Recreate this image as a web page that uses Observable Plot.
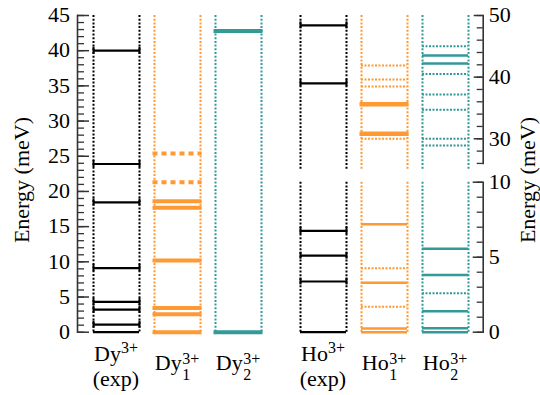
<!DOCTYPE html>
<html>
<head>
<meta charset="utf-8">
<script src="https://cdn.jsdelivr.net/npm/d3@7"></script>
<script src="https://cdn.jsdelivr.net/npm/@observablehq/plot@0.6"></script>
<style>
html, body { margin: 0; padding: 0; background: #fff; }
#chart { position: relative; width: 540px; height: 395px; overflow: hidden; background: #fff; }
#chart svg { position: absolute; left: 0; top: 0; }
</style>
</head>
<body>
<div id="chart"></div>
<script>
// ---------- data ----------
const dyColumns = ["Dy exp", "Dy 1", "Dy 2"];
const hoColumns = ["Ho exp", "Ho 1", "Ho 2"];

// Dy3+ levels (meV)
const dyExp = [0, 1.07, 3.2, 4.3, 9.1, 18.45, 23.9, 40.0];
const dy1Solid = [0, 2.55, 3.45, 10.2, 17.7, 18.6];
const dy1Dashed = [21.3, 25.4];
const dy2Solid = [0, 42.8];

// Ho3+ levels (meV)
const hoExp = [0, 3.38, 5.1, 6.75, 39.0, 48.4];
const ho1Solid = [0, 0.25, 3.3, 7.2];
const ho1SolidStrong = [30.8, 35.6];
const ho1Dashed = [1.7, 4.27, 30.0, 38.5, 39.6, 41.9];
const ho2Solid = [0, 0.27, 1.4, 3.82, 5.56, 42.2, 43.5];
const ho2Dashed = [2.6, 28.9, 30.0, 34.7, 37.2, 40.5, 45.0];

// axis ticks
const dyTickLabels = [0, 5, 10, 15, 20, 25, 30, 35, 40, 45];
const hoUpperTickLabels = [30, 40, 50];
const hoLowerTickLabels = [0, 5, 10];
const dyMinorTicks = d3.range(0, 46, 1);
const hoUpperMinorTicks = d3.range(26, 51, 2);
const hoLowerMinorTicks = d3.range(0, 11, 1);

const dyDomain = [0, 45];
const hoUpperDomain = [25, 50];
const hoLowerDomain = [0, 10];
const axisTitle = "Energy (meV)";

// ---------- styles ----------
const font = "Liberation Serif";
const axisColor = "#333";
const colColors = {exp: "#000000", "1": "#ff9933", "2": "#339999"};
const colorOf = (c) => colColors[c.split(" ")[1]];
const half = 23;
const W = 540, H = 395;

const rec = (col, arr) => arr.map((e) => ({col, e}));

function columnMarks(cols) {
  return [
    Plot.ruleX(cols, {x: (d) => d, dx: -half, stroke: colorOf, strokeWidth: 2, strokeDasharray: "2 1.7"}),
    Plot.ruleX(cols, {x: (d) => d, dx: half, stroke: colorOf, strokeWidth: 2, strokeDasharray: "2 1.7"})
  ];
}
function capMarks(data) {
  return [-half, half].map((dx) =>
    Plot.ruleX(data.filter((d) => d.e !== 0), {x: "col", y1: "e", y2: "e", dx, insetTop: -3.5, insetBottom: -3.5, stroke: "#000", strokeWidth: 2})
  );
}
const inRange = (dom) => (d) => d.e >= dom[0] && d.e <= dom[1];

const common = {
  width: W, height: H,
  color: {type: "identity"},
  style: {background: "transparent", color: "#000"}
};

// ---------- Dy panel ----------
const dyML = 77, dyMR = 270, dyMT = 15, dyMB = 63.3;
const dyFW = W - dyML - dyMR;
const dyExpRec = rec("Dy exp", dyExp);
const dyPlot = Plot.plot({
  ...common,
  marginTop: dyMT, marginBottom: dyMB, marginLeft: dyML, marginRight: dyMR,
  x: {domain: dyColumns, range: [93, 261], paddingInner: 15 / 61, paddingOuter: 0, axis: null},
  y: {domain: dyDomain, axis: null},
  marks: [
    ...columnMarks(dyColumns),
    Plot.tickY(dyExpRec, {x: "col", y: "e", stroke: "#000", strokeWidth: 2.2}),
    ...capMarks(dyExpRec),
    Plot.tickY(rec("Dy 1", dy1Solid), {x: "col", y: "e", stroke: colColors["1"], strokeWidth: 4, insetLeft: -1.5, insetRight: -1.5}),
    Plot.tickY(rec("Dy 1", dy1Dashed), {x: "col", y: "e", stroke: colColors["1"], strokeWidth: 4, strokeDasharray: "5 4", insetLeft: -1.5, insetRight: -1.5}),
    Plot.tickY(rec("Dy 2", dy2Solid), {x: "col", y: "e", stroke: colColors["2"], strokeWidth: 4, insetLeft: -1.5, insetRight: -1.5}),
    Plot.frame({anchor: "left", stroke: axisColor, strokeWidth: 1.6}),
    Plot.ruleY(dyMinorTicks, {y: (d) => d, insetRight: dyFW - 7, stroke: axisColor, strokeWidth: 1.3}),
    Plot.ruleY(dyTickLabels, {y: (d) => d, insetRight: dyFW - 12, stroke: axisColor, strokeWidth: 1.5})
  ]
});

// ---------- Ho panels ----------
const hoML = 290, hoMR = 57.3;
const hoFW = W - hoML - hoMR;
const hoAll = [
  ...rec("Ho exp", hoExp).map((d) => ({...d, kind: "exp"})),
  ...rec("Ho 1", ho1Solid).map((d) => ({...d, kind: "solid"})),
  ...rec("Ho 1", ho1SolidStrong).map((d) => ({...d, kind: "strong"})),
  ...rec("Ho 1", ho1Dashed).map((d) => ({...d, kind: "dashed"})),
  ...rec("Ho 2", ho2Solid).map((d) => ({...d, kind: "solid"})),
  ...rec("Ho 2", ho2Dashed).map((d) => ({...d, kind: "dashed"}))
];

function hoMarks(dom, minor, labels, majorLen, axisInsetBottom) {
  const data = hoAll.filter(inRange(dom));
  const exp = data.filter((d) => d.kind === "exp");
  return [
    ...columnMarks(hoColumns),
    Plot.tickY(exp, {x: "col", y: "e", stroke: "#000", strokeWidth: 2.2}),
    ...capMarks(exp),
    Plot.tickY(data.filter((d) => d.kind === "solid"), {x: "col", y: "e", stroke: (d) => colorOf(d.col), strokeWidth: 2.5}),
    Plot.tickY(data.filter((d) => d.kind === "strong"), {x: "col", y: "e", stroke: (d) => colorOf(d.col), strokeWidth: 4.5, insetLeft: -1.5, insetRight: -1.5}),
    Plot.tickY(data.filter((d) => d.kind === "dashed"), {x: "col", y: "e", stroke: (d) => colorOf(d.col), strokeWidth: 2, strokeDasharray: "2 1.5"}),
    Plot.frame({anchor: "right", stroke: axisColor, strokeWidth: 1.6, insetBottom: axisInsetBottom}),
    Plot.ruleY(minor, {y: (d) => d, insetLeft: hoFW - 6, stroke: axisColor, strokeWidth: 1.3}),
    Plot.ruleY(labels, {y: (d) => d, insetLeft: hoFW - majorLen, stroke: axisColor, strokeWidth: 1.5})
  ];
}

const hoUpper = Plot.plot({
  ...common,
  marginTop: 15, marginBottom: H - 169.1, marginLeft: hoML, marginRight: hoMR,
  x: {domain: hoColumns, range: [300, 468], paddingInner: 15 / 61, paddingOuter: 0, axis: null},
  y: {domain: hoUpperDomain, axis: null},
  marks: hoMarks(hoUpperDomain, hoUpperMinorTicks, hoUpperTickLabels, 9, 6.2)
});

const hoLower = Plot.plot({
  ...common,
  marginTop: 181.7, marginBottom: 63.3, marginLeft: hoML, marginRight: hoMR,
  x: {domain: hoColumns, range: [300, 468], paddingInner: 15 / 61, paddingOuter: 0, axis: null},
  y: {domain: hoLowerDomain, axis: null},
  marks: hoMarks(hoLowerDomain, hoLowerMinorTicks, hoLowerTickLabels, 10, 0)
});

const chart = document.getElementById("chart");
chart.append(dyPlot, hoUpper, hoLower);

// ---------- texts, placed with the plots' own scales ----------
function textGroup(plot) {
  return d3.select(plot).append("g").attr("font-family", font).attr("fill", "#000").attr("stroke", "none");
}
function tickLabels(plot, ticks, side) {
  const y = plot.scale("y");
  const g = textGroup(plot);
  const ax = side === "left" ? dyML - 7 : W - hoMR + 6;
  for (const t of ticks) {
    g.append("text").attr("x", ax).attr("y", y.apply(t)).attr("dy", "0.33em")
      .attr("text-anchor", side === "left" ? "end" : "start").attr("font-size", 22).text(t);
  }
}
function drawColumnLabels(plot, cols) {
  const x = plot.scale("x");
  const bottomY = H - 63.3;
  for (const c of cols) {
    const [elem, idx] = c.split(" ");
    const cx = x.apply(c) + x.bandwidth / 2;
    const g = textGroup(plot);
    if (idx === "exp") {
      const t = g.append("text").attr("x", cx).attr("y", bottomY + 29.5).attr("text-anchor", "middle").attr("font-size", 22);
      t.append("tspan").text(elem);
      t.append("tspan").attr("font-size", 16).attr("dy", -8).text("3+");
      g.append("text").attr("x", cx).attr("y", bottomY + 54).attr("text-anchor", "middle").attr("font-size", 22).text("(exp)");
    } else {
      g.append("text").attr("x", 0).attr("y", bottomY + 38.5).attr("text-anchor", "end").attr("font-size", 22).text(elem);
      g.append("text").attr("x", 0.5).attr("y", bottomY + 32.5).attr("text-anchor", "start").attr("font-size", 16).text("3+");
      g.append("text").attr("x", 0.5).attr("y", bottomY + 48).attr("text-anchor", "start").attr("font-size", 16).text(idx);
      const bb = g.node().getBBox();
      g.attr("transform", `translate(${cx - (bb.x + bb.width / 2)},0)`);
    }
  }
}
function axisTitleText(plot, xPos, yMid) {
  textGroup(plot).append("text")
    .attr("transform", `translate(${xPos},${yMid}) rotate(-90)`)
    .attr("text-anchor", "middle").attr("dy", "0.35em").attr("font-size", 22).text(axisTitle);
}

tickLabels(dyPlot, dyTickLabels, "left");
tickLabels(hoUpper, hoUpperTickLabels, "right");
tickLabels(hoLower, hoLowerTickLabels, "right");
drawColumnLabels(dyPlot, dyColumns);
drawColumnLabels(hoLower, hoColumns);
// titles centred on the middle of the Dy energy range (from the y scale)
const yDy = dyPlot.scale("y");
const titleMid = (yDy.apply(dyDomain[0]) + yDy.apply(dyDomain[1])) / 2 + 6.7;
axisTitleText(dyPlot, dyML - 56, titleMid);
axisTitleText(hoLower, W - hoMR + 45, titleMid);
</script>
</body>
</html>
